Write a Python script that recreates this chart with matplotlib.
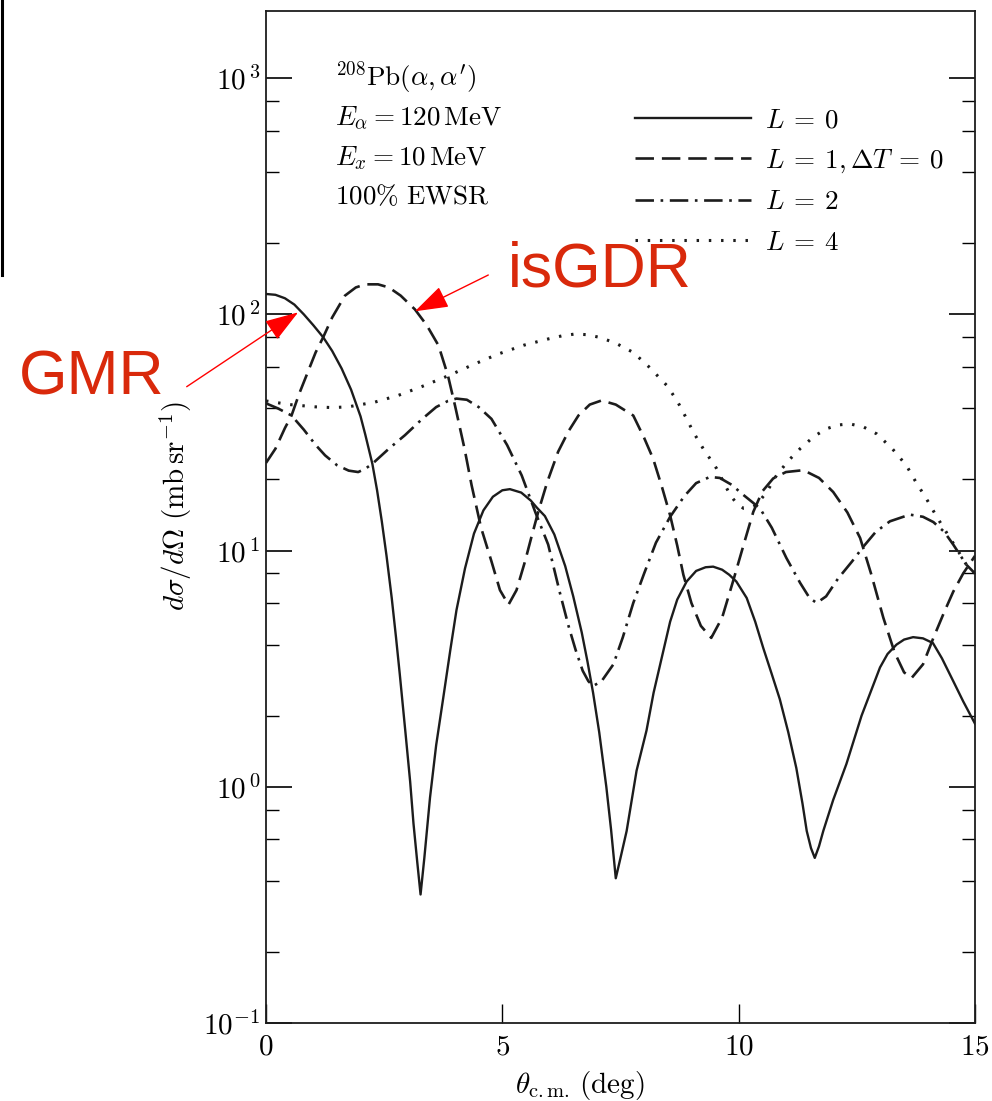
import matplotlib
matplotlib.use("Agg")
import matplotlib.pyplot as plt
from matplotlib import ticker
from matplotlib.lines import Line2D

plt.rcParams['mathtext.fontset'] = 'cm'
plt.rcParams['font.family'] = ['DejaVu Serif']

# ---- data ----
theta_L0 = [0.0, 0.2, 0.4, 0.6, 0.8, 1.0, 1.21, 1.4, 1.6, 1.8, 2.0, 2.1, 2.25, 2.35, 2.45,
            2.55, 2.66, 2.75, 2.83, 2.95, 3.05, 3.12, 3.2, 3.27, 3.35, 3.47, 3.6, 3.75,
            3.9, 4.03, 4.21, 4.4, 4.6, 4.8, 5.0, 5.16, 5.4, 5.6, 5.73, 5.9, 6.1, 6.33,
            6.5, 6.68, 6.8, 6.92, 7.05, 7.2, 7.3, 7.40, 7.5, 7.63, 7.84, 8.05, 8.2,
            8.34, 8.55, 8.7, 8.9, 9.1, 9.3, 9.46, 9.65, 9.8, 9.95, 10.17, 10.35, 10.52,
            10.7, 10.87, 11.05, 11.22, 11.35, 11.44, 11.53, 11.61, 11.7, 11.79, 12.0,
            12.28, 12.6, 12.99, 13.15, 13.34, 13.5, 13.69, 13.9, 14.11, 14.3, 14.54,
            14.75, 15.0]
xs_L0 = [122, 121, 117, 110, 100, 90, 80, 70, 59, 48, 37, 31, 23.3, 18, 13.3,
         9.5, 6.3, 4.3, 3.0, 1.7, 1.05, 0.7, 0.48, 0.35, 0.5, 0.9, 1.5, 2.38,
         3.8, 5.6, 8.4, 11.8, 14.8, 16.9, 18.0, 18.2, 17.6, 16.3, 15.2, 14.0, 11.7, 8.6,
         6.4, 4.5, 3.4, 2.5, 1.7, 1.0, 0.66, 0.41, 0.5, 0.65, 1.17, 1.73, 2.5,
         3.3, 5.0, 6.2, 7.4, 8.2, 8.5, 8.55, 8.3, 7.9, 7.4, 6.3, 5.0, 3.87,
         3.0, 2.35, 1.7, 1.2, 0.85, 0.65, 0.55, 0.50, 0.56, 0.65, 0.88,
         1.25, 2.0, 3.2, 3.65, 4.0, 4.2, 4.3, 4.25, 4.06, 3.5, 2.8,
         2.3, 1.85]

theta_L1 = [0.0, 0.2, 0.4, 0.54, 0.7, 0.9, 1.05, 1.21, 1.4, 1.67, 1.9, 2.1, 2.37, 2.6,
            2.85, 3.15, 3.4, 3.65, 3.85, 4.0, 4.2, 4.35, 4.55, 4.77, 4.95, 5.13, 5.3,
            5.48, 5.62, 5.76, 5.95, 6.18, 6.4, 6.61, 6.85, 7.10, 7.4, 7.77, 8.0, 8.19,
            8.38, 8.55, 8.7, 8.83, 9.0, 9.2, 9.42, 9.65, 9.88, 10.1, 10.31, 10.5, 10.73,
            11.0, 11.37, 11.7, 12.0, 12.3, 12.57, 12.8, 13.06, 13.3, 13.5, 13.66, 13.9,
            14.12, 14.35, 14.54, 14.75, 15.0]
xs_L1 = [23.5, 27, 33, 37.3, 46, 58, 69, 80, 97, 120, 130, 134, 134, 130,
         120, 105, 90, 73.8, 55, 41, 27, 18.9, 12.5, 9.0, 6.8, 5.9, 6.8,
         9.0, 11.5, 14.6, 19.5, 26.2, 32, 37.3, 41.5, 43.2, 41.5, 37.3, 30, 24.5,
         18.5, 14.1, 10.5, 7.9, 6.0, 4.8, 4.27, 5.2, 7.4, 10.5, 14.6, 17.8, 20.2,
         21.5, 21.9, 20.3, 17.7, 14.5, 11.3, 8.0, 5.2, 3.7, 3.05, 2.89, 3.3,
         4.27, 5.5, 6.7, 8.0, 9.5]

theta_L2 = [0.0, 0.25, 0.54, 0.8, 1.05, 1.25, 1.5, 1.75, 1.95, 2.1, 2.25, 2.6, 2.94, 3.3,
            3.6, 3.85, 4.03, 4.25, 4.5, 4.77, 5.1, 5.41, 5.7, 5.97, 6.22, 6.40, 6.55,
            6.7, 6.82, 6.92, 7.1, 7.35, 7.55, 7.77, 8.0, 8.25, 8.55, 8.85, 9.1, 9.39, 9.6,
            9.85, 10.10, 10.45, 10.7, 11.01, 11.3, 11.5, 11.65, 11.85, 12.1, 12.4, 12.64,
            12.9, 13.2, 13.62, 13.9, 14.12, 14.35, 14.54, 14.82, 15.0]
xs_L2 = [42, 40, 37.3, 32.5, 28, 25.3, 23, 21.8, 21.5, 22.2, 23.3, 27, 30.8, 36,
         40.5, 43, 44, 43.5, 40.5, 36.1, 28, 20.8, 14.5, 10.6, 6.6, 4.8, 3.8,
         3.1, 2.8, 2.67, 2.8, 3.3, 4.3, 6.0, 8.0, 10.8, 13.9, 17, 19.3, 20.5, 20.3,
         19, 17.2, 15.1, 12.5, 9.3, 7.3, 6.3, 6.0, 6.4, 7.6, 9.0, 10.4,
         12.0, 13.3, 14.2, 13.9, 13.2, 12.0, 10.6, 8.7, 8.0]

theta_L4 = [0.0, 0.5, 1.04, 1.4, 1.74, 2.3, 2.80, 3.3, 3.86, 4.4, 4.91, 5.45, 5.97, 6.25,
            6.54, 6.8, 7.07, 7.4, 7.77, 8.1, 8.48, 8.7, 8.90, 9.05, 9.25, 9.53, 9.82,
            9.95, 10.10, 10.25, 10.38, 10.6, 10.80, 11.05, 11.30, 11.6, 11.86, 12.1,
            12.35, 12.65, 12.92, 13.25, 13.55, 13.75, 13.97, 14.2, 14.47, 14.65, 14.82,
            15.0]
xs_L4 = [43, 41.5, 40.6, 40.3, 40.6, 42.5, 45.4, 49.5, 55, 61.5, 67.9, 74, 78.7, 81,
         82.6, 82, 79.8, 75.5, 69, 60, 50, 43, 36.1, 31.5, 27, 22.3, 17.2,
         15.9, 15.1, 15.2, 15.6, 17.8, 20.8, 24, 27, 30.5, 32.8, 34,
         34.4, 33.3, 31.2, 27, 22.9, 19.5, 16.6, 13.8, 11.3, 9.9, 8.7,
         8.0]

labels = [r'$L\:=\:0$', r'$L\:=\:1,\Delta T\:=\:0$', r'$L\:=\:2$', r'$L\:=\:4$']
x_ticks = [0, 5, 10, 15]
y_ticks = [0.1, 1, 10, 100, 1000]
y_ticklabels = [r'$10^{-1}$', r'$10^{\,0}$', r'$10^{\,1}$', r'$10^{\,2}$', r'$10^{\,3}$']
info_lines = [r'$^{208}\mathrm{Pb}(\alpha,\alpha^{\prime})$',
              r'$E_{\alpha}=120\,\mathrm{MeV}$',
              r'$E_{x}=10\,\mathrm{MeV}$',
              r'$100\%\ \mathrm{EWSR}$']

W, H = 992, 1101
fig = plt.figure(figsize=(W / 100, H / 100), dpi=100)
ax = fig.add_axes([266 / W, 1 - 1023 / H, 709 / W, (1023 - 10.7) / H])

ink = '#1c1c1c'
lw = 1.7
ax.plot(theta_L0, xs_L0, color=ink, lw=lw, ls='-', label=labels[0])
ax.plot(theta_L1, xs_L1, color=ink, lw=lw + 0.2, ls=(0, (7, 3)), label=labels[1])
ax.plot(theta_L2, xs_L2, color=ink, lw=lw + 0.2, ls=(0, (7, 2.5, 1, 2.5)), label=labels[2])
ax.plot(theta_L4, xs_L4, color=ink, lw=lw + 0.5, ls=(0, (0.8, 3.2)), label=labels[3])

ax.set_yscale('log')
ax.set_xlim(0, 15)
ax.set_ylim(0.1, 1930)
ax.set_xticks(x_ticks)
ax.set_xticklabels([r'$%d$' % t for t in x_ticks])
ax.yaxis.set_major_locator(ticker.FixedLocator(y_ticks))
ax.yaxis.set_major_formatter(ticker.FixedFormatter(y_ticklabels))
ax.yaxis.set_minor_locator(ticker.LogLocator(base=10, subs=[2, 4, 6, 8]))
ax.yaxis.set_minor_formatter(ticker.NullFormatter())

ax.tick_params(axis='y', which='major', direction='in', length=19, width=1.2,
               right=True, left=True, labelsize=21, pad=4)
ax.tick_params(axis='y', which='minor', direction='in', length=9.5, width=1.0,
               right=True, left=True)
ax.tick_params(axis='x', which='major', direction='in', length=14, width=1.0,
               top=False, labelsize=21, pad=7)
for s in ax.spines.values():
    s.set_linewidth(1.3)
    s.set_color(ink)

ax.set_ylabel(r'$d\sigma/d\Omega\ (\mathrm{mb\,sr^{-1}})$', fontsize=21)
ax.yaxis.set_label_coords((194 - 266) / 709, 0.511)
ax.set_xlabel(r'$\theta_{\mathrm{c.m.}}\,(\mathrm{deg})$', fontsize=21)
ax.xaxis.set_label_coords((580 - 266) / 709, -0.045)

# info block
ys = [86, 126, 165, 204]
for txt, yy in zip(info_lines, ys):
    fig.text(335 / W, 1 - yy / H, txt, fontsize=19.5, va='baseline', ha='left')

leg = ax.legend(loc='upper left', bbox_to_anchor=(635 / W, 1 - 106 / H),
                bbox_transform=fig.transFigure, frameon=False, fontsize=19.5,
                handlelength=4.3, handletextpad=0.5, labelspacing=0.5,
                borderpad=0, borderaxespad=0)

# red annotations
red_txt = '#d9290b'
fig.text(92 / W, 1 - 378 / H, 'GMR', color=red_txt, fontsize=45,
         family='Liberation Sans', ha='center', va='center')
fig.text(600 / W, 1 - 270 / H, 'isGDR', color=red_txt, fontsize=45,
         family='Liberation Sans', ha='center', va='center')
arrow_kw = dict(arrowstyle='-|>,head_length=1.5,head_width=0.5', mutation_scale=14,
                lw=1.0, color='red', shrinkA=0, shrinkB=0)
ax.annotate('', xy=(0.68, 102), xycoords='data',
            xytext=(186.7, H - 386.7), textcoords='figure pixels', arrowprops=arrow_kw,
            annotation_clip=False)
ax.annotate('', xy=(3.15, 103), xycoords='data',
            xytext=(488.3, H - 275), textcoords='figure pixels', arrowprops=arrow_kw,
            annotation_clip=False)

# scan border artifact
fig.add_artist(Line2D([1.5 / W, 1.5 / W], [1, 1 - 275 / H], color='black', lw=2.2,
                      transform=fig.transFigure))

fig.savefig('out.png', dpi=100)
